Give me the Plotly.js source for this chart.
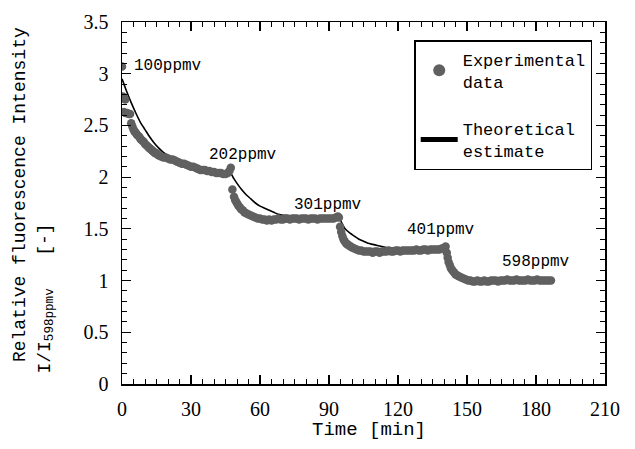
<!DOCTYPE html>
<html>
<head>
<meta charset="utf-8">
<script src="https://cdn.plot.ly/plotly-3.0.1.min.js"></script>
<style>
  html, body { margin: 0; padding: 0; background: #ffffff; }
  #chart { width: 635px; height: 449px; }
</style>
</head>
<body>
<div id="chart"></div>
<script>
// ---- Data ----
// Experimental data: time [min]
var expTime = [
  0, 0.4, 0.9, 1.4, 0.8, 1.5, 2.2, 2.9, 3.5, 4.0, 4.5, 5, 5.5, 6, 6.5, 7, 7.5, 8, 8.5, 9, 9.5, 10,
  10.5, 11, 11.5, 12, 12.5, 13, 13.5, 14, 14.5, 15, 15.5, 16, 17, 18, 19, 20, 21, 22, 23, 24, 25,
  26, 27, 28, 29, 30, 31, 32, 33, 34, 35, 36, 37, 38, 39, 40, 41, 42, 43, 44, 45, 46, 46.7, 47.3,
  48.0, 48.7, 49.2, 49.7, 50.2, 50.7, 51.2, 51.8, 52.5, 53.2, 54, 55, 56, 57, 58, 59, 60, 61, 62,
  63, 64, 65, 66, 67, 68, 69, 70, 71, 72, 73, 74, 75, 76, 77, 78, 79, 80, 81, 82, 83, 84, 85, 86,
  87, 88, 89, 90, 91, 92, 93, 93.8, 94.3,
  94.8, 95.3, 95.8, 96.3, 96.8, 97.4, 98, 98.7, 99.4, 100, 101, 102, 103, 104, 105, 106, 107, 108,
  109, 110, 111, 112, 113, 114, 115, 116, 117, 118, 119, 120, 121, 122, 123, 124, 125, 126, 127,
  128, 129, 130, 131, 132, 133, 134, 135, 136, 137, 138, 139, 140, 140.7,
  141.2, 141.6, 142.0, 142.5, 143, 143.6, 144.3, 145, 145.8, 146.6, 147.5, 148.5, 149.5, 150.5,
  151.5, 152.5, 153.5, 154.5, 155.5, 156.5, 157.5, 158.5, 159.5, 160.5, 161.5, 162.5, 163.5, 164.5,
  165.5, 166.5, 167.5, 168.5, 169.5, 170.5, 171.5, 172.5, 173.5, 174.5, 175.5, 176.5, 177.5, 178.5,
  179.5, 180.5, 181.5, 182.5, 183.5, 184.5, 185.5, 186.5
];
// Experimental data: relative intensity I/I598ppmv
var expValue = [
  3.07, 2.78, 2.76, 2.75, 2.63, 2.62, 2.62, 2.61, 2.61, 2.52, 2.49, 2.46, 2.44, 2.43, 2.41, 2.40, 2.39, 2.37, 2.36, 2.35, 2.34, 2.32,
  2.31, 2.30, 2.29, 2.28, 2.27, 2.26, 2.25, 2.24, 2.23, 2.23, 2.22, 2.21, 2.20, 2.19, 2.19, 2.18, 2.17, 2.17, 2.16, 2.15, 2.14,
  2.13, 2.13, 2.12, 2.11, 2.10, 2.10, 2.09, 2.08, 2.07, 2.07, 2.07, 2.06, 2.06, 2.05, 2.05, 2.04, 2.04, 2.04, 2.03, 2.03, 2.04, 2.06, 2.09,
  1.88, 1.81, 1.78, 1.76, 1.74, 1.72, 1.71, 1.69, 1.68, 1.66, 1.65, 1.64, 1.63, 1.62, 1.61, 1.60, 1.60, 1.59, 1.59,
  1.58, 1.59, 1.58, 1.59, 1.59, 1.60, 1.59, 1.59, 1.60, 1.60, 1.59, 1.60, 1.60, 1.60, 1.59, 1.60, 1.60, 1.60, 1.59, 1.60, 1.60, 1.60, 1.59, 1.60,
  1.60, 1.60, 1.60, 1.60, 1.60, 1.60, 1.61, 1.62, 1.61,
  1.52, 1.47, 1.43, 1.40, 1.38, 1.36, 1.35, 1.34, 1.33, 1.32, 1.31, 1.30, 1.29, 1.29, 1.28, 1.28, 1.28, 1.28,
  1.27, 1.28, 1.28, 1.27, 1.28, 1.28, 1.28, 1.29, 1.28, 1.28, 1.29, 1.29, 1.28, 1.29, 1.29, 1.29, 1.29, 1.29, 1.29,
  1.30, 1.29, 1.29, 1.30, 1.30, 1.29, 1.30, 1.30, 1.30, 1.30, 1.30, 1.31, 1.31, 1.33,
  1.27, 1.22, 1.18, 1.15, 1.12, 1.10, 1.08, 1.06, 1.05, 1.04, 1.03, 1.02, 1.01, 1.00,
  1.00, 0.99, 0.99, 1.00, 0.99, 0.99, 1.00, 0.99, 0.99, 1.00, 1.00, 1.00, 0.99, 1.00,
  1.00, 1.00, 1.01, 1.00, 1.00, 1.00, 1.01, 1.00, 1.00, 1.00, 1.00, 1.01, 1.00, 1.00,
  1.00, 1.01, 1.00, 1.00, 1.00, 1.00, 1.00, 1.00
];
// Theoretical estimate
var theoTime = [
  0, 2, 4, 6, 8, 10, 12, 14, 16, 18, 20, 25, 30, 35, 40, 45, 47.5,
  48.5, 50, 52, 54, 56, 58, 60, 62, 64, 66, 68, 70, 75, 80, 85, 90, 94.5,
  95.5, 97, 99, 101, 103, 105, 107, 109, 111, 113, 115, 120, 130, 141,
  142, 143, 144, 145, 146, 148, 150, 155, 160, 170, 180, 187
];
var theoValue = [
  2.95, 2.83, 2.72, 2.62, 2.53, 2.46, 2.39, 2.33, 2.28, 2.24, 2.21, 2.15, 2.10, 2.07, 2.05, 2.04, 2.03,
  1.99, 1.94, 1.88, 1.83, 1.79, 1.75, 1.72, 1.70, 1.68, 1.66, 1.64, 1.63, 1.62, 1.61, 1.61, 1.60, 1.60,
  1.56, 1.50, 1.46, 1.43, 1.40, 1.38, 1.36, 1.35, 1.34, 1.33, 1.32, 1.31, 1.31, 1.31,
  1.25, 1.18, 1.13, 1.09, 1.06, 1.03, 1.01, 1.00, 1.00, 1.00, 1.00, 1.00
];
// Concentration labels
var concLabels = ["100ppmv", "202ppmv", "301ppmv", "401ppmv", "598ppmv"];
var concLabelTime = [4.5, 36.8, 74.0, 123.0, 164.5];
var concLabelValue = [3.07, 2.21, 1.73, 1.49, 1.18];

var seriesNames = ["Experimental<br>data", "Theoretical<br>estimate"];
var xTitle = "Time [min]";
var yTitleLine1 = "Relative fluorescence Intensity";
var yTitleLine2 = "I/I<sub>598ppmv</sub>\u00a0\u00a0\u00a0[-]";

// ---- Chart ----
var MONO = "Liberation Mono, DejaVu Sans Mono, monospace";
var SERIF = "Liberation Serif, DejaVu Serif, serif";

var traces = [
  {
    x: theoTime, y: theoValue, type: "scatter", mode: "lines",
    name: seriesNames[1], legendrank: 2, legendgroup: "b",
    line: {color: "#000000", width: 1.6, shape: "spline", smoothing: 0.6}
  },
  {
    x: expTime, y: expValue, type: "scatter", mode: "markers",
    name: seriesNames[0], legendrank: 1, legendgroup: "a",
    marker: {size: 8.5, color: "#606060", line: {color: "#505050", width: 0}}
  }
];

var annotations = concLabels.map(function (t, i) {
  return {
    x: concLabelTime[i], y: concLabelValue[i], xref: "x", yref: "y",
    text: t, showarrow: false, xanchor: "left", yanchor: "middle",
    font: {family: MONO, size: 16, color: "#000"}
  };
});
annotations.push({
  xref: "paper", yref: "paper", x: 0.511, y: -0.127,
  text: xTitle, showarrow: false, xanchor: "center", yanchor: "middle",
  font: {family: MONO, size: 19, color: "#000"}
});
annotations.push({
  xref: "paper", yref: "paper", x: -0.211, y: 0.522,
  text: yTitleLine1, showarrow: false, textangle: -90,
  xanchor: "center", yanchor: "middle",
  font: {family: MONO, size: 18, color: "#000"}
});
annotations.push({
  xref: "paper", yref: "paper", x: -0.156, y: 0.235,
  text: yTitleLine2, showarrow: false, textangle: -90,
  xanchor: "center", yanchor: "middle",
  font: {family: MONO, size: 18, color: "#000"}
});

var axisCommon = {
  showgrid: false, zeroline: false, showline: true, linecolor: "#000", linewidth: 1.5,
  mirror: "allticks", ticks: "inside", ticklen: 9, tickwidth: 1.2, tickcolor: "#000",
  tickfont: {family: SERIF, size: 20, color: "#000"}
};

var layout = {
  width: 635, height: 449,
  margin: {l: 122, r: 30, t: 22, b: 65},
  paper_bgcolor: "#ffffff", plot_bgcolor: "#ffffff",
  showlegend: true,
  legend: {
    x: 0.605, y: 0.95, xanchor: "left", yanchor: "top",
    bgcolor: "#ffffff", bordercolor: "#000", borderwidth: 1.5,
    font: {family: MONO, size: 17, color: "#000"},
    itemsizing: "constant", itemwidth: 37, tracegroupgap: 22, valign: "middle"
  },
  xaxis: Object.assign({}, axisCommon, {
    range: [0, 210], tick0: 0, dtick: 30, ticklabelstandoff: 6,
    minor: {dtick: 5, ticks: "inside", ticklen: 5, tickwidth: 1, tickcolor: "#000"}
  }),
  yaxis: Object.assign({}, axisCommon, {
    range: [0, 3.5], tick0: 0, dtick: 0.5, ticklabelstandoff: 8,
    minor: {dtick: 0.1, ticks: "inside", ticklen: 5, tickwidth: 1, tickcolor: "#000"}
  }),
  annotations: annotations
};

Plotly.newPlot("chart", traces, layout, {displayModeBar: false, staticPlot: true});
</script>
</body>
</html>
